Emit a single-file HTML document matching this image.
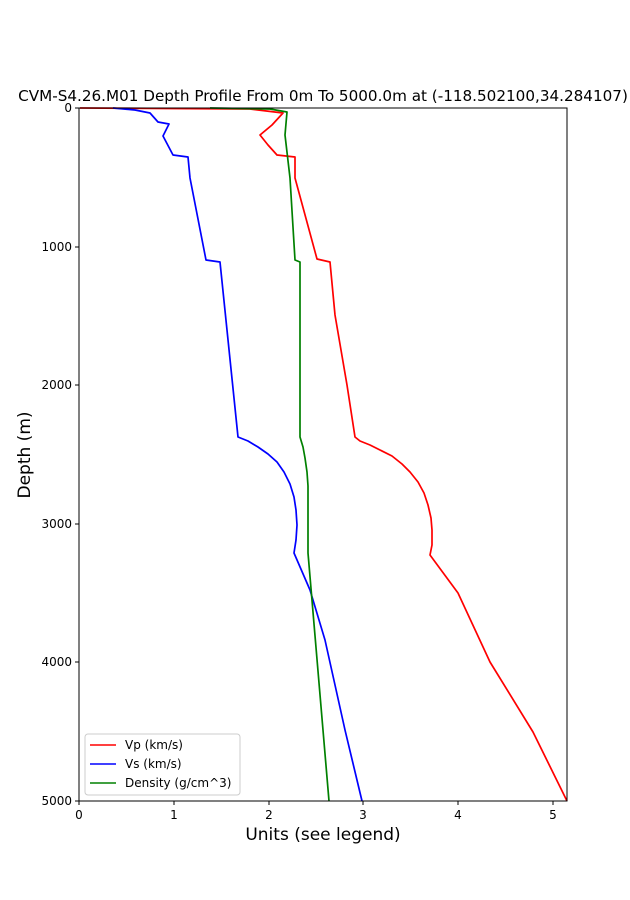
<!DOCTYPE html>
<html><head><meta charset="utf-8"><style>body{margin:0;background:#fff}svg{display:block}text{font-family:"DejaVu Sans","Liberation Sans",sans-serif;fill:#000}</style></head><body>
<svg width="630" height="900" viewBox="0 0 630 900" xmlns="http://www.w3.org/2000/svg">
<text x="323" y="101" font-size="15.2" text-anchor="middle">CVM-S4.26.M01 Depth Profile From 0m To 5000.0m at (-118.502100,34.284107)</text>
<g fill="none" stroke-width="1.7" stroke-linejoin="round">
<polyline stroke="#ff0000" points="80,108 250,109 283,113 272,125 260,135 268,145 277,155 295,157 295,178 317,259 330,262 335,315 347,385 355,437 360,441 370,445 380,450 392,456 402,464 410,472 418,482 424,493 428,505 431,518 432,530 432,545 430,555 458,593 490,662 533,732 567,801"/>
<polyline stroke="#0000ff" points="113,108 135,110 150,113 158,122 169,124 163,136 173,155 188,157 190,178 206,260 220,262 238,437 248,441 258,447 268,454 277,462 284,472 290,484 294,497 296,510 297,525 296,540 294,553 310,590 325,640 345,730 362,801"/>
<polyline stroke="#008000" points="210,108 270,109 287,112 285,135 290,178 295,260 300,262 300,437 303,447 305,458 307,472 308,486 308,500 308,553 329,801"/>
</g>
<rect x="79" y="108" width="488" height="693" fill="none" stroke="#000" stroke-width="1"/>
<g stroke="#000" stroke-width="1">
<line x1="79" y1="801" x2="79" y2="805"/><line x1="174" y1="801" x2="174" y2="805"/><line x1="269" y1="801" x2="269" y2="805"/><line x1="363" y1="801" x2="363" y2="805"/><line x1="458" y1="801" x2="458" y2="805"/><line x1="553" y1="801" x2="553" y2="805"/>
<line x1="75" y1="108" x2="79" y2="108"/><line x1="75" y1="247" x2="79" y2="247"/><line x1="75" y1="385" x2="79" y2="385"/><line x1="75" y1="524" x2="79" y2="524"/><line x1="75" y1="662" x2="79" y2="662"/><line x1="75" y1="801" x2="79" y2="801"/>
</g>
<g font-size="12" text-anchor="middle">
<text x="79" y="819">0</text><text x="174" y="819">1</text><text x="269" y="819">2</text><text x="363" y="819">3</text><text x="458" y="819">4</text><text x="553" y="819">5</text>
</g>
<g font-size="12" text-anchor="end">
<text x="72" y="112">0</text><text x="72" y="251">1000</text><text x="72" y="389">2000</text><text x="72" y="528">3000</text><text x="72" y="666">4000</text><text x="72" y="805">5000</text>
</g>
<text x="323" y="840" font-size="17" text-anchor="middle">Units (see legend)</text>
<text transform="translate(30,455) rotate(-90)" font-size="17" text-anchor="middle">Depth (m)</text>
<rect x="85" y="734" width="155" height="61" rx="3" fill="#fff" fill-opacity="0.8" stroke="#ccc"/>
<line x1="90" y1="745" x2="116" y2="745" stroke="#ff0000" stroke-width="1.6"/>
<line x1="90" y1="764" x2="116" y2="764" stroke="#0000ff" stroke-width="1.6"/>
<line x1="90" y1="783" x2="116" y2="783" stroke="#008000" stroke-width="1.6"/>
<g font-size="12"><text x="125" y="749">Vp (km/s)</text><text x="125" y="768">Vs (km/s)</text><text x="125" y="787">Density (g/cm^3)</text></g>
</svg>
</body></html>
